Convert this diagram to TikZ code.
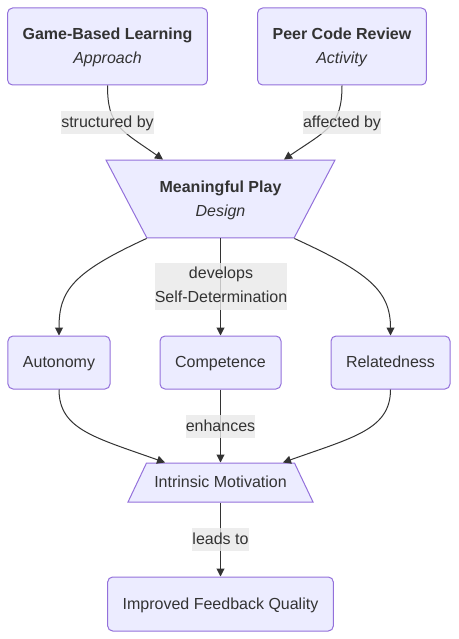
\documentclass[tikz,border=0pt]{standalone}
\usepackage{fontspec}
\setmainfont{Liberation Sans}
\usepackage{xcolor}
\usepackage{tikz}
\usetikzlibrary{arrows.meta,calc,shapes.geometric}

\definecolor{boxfill}{HTML}{ECECFF}
\definecolor{boxline}{HTML}{9370DB}
\definecolor{ink}{HTML}{333333}
\definecolor{lblfill}{HTML}{E8E8E8}
\newcommand{\tstrut}{\rule{0pt}{14pt}}

\begin{document}
\begin{tikzpicture}[x=1pt,y=-1pt,>={Triangle[length=8pt,width=8pt]},
  every node/.style={text=ink,font=\fontsize{16}{24}\selectfont},
  oneline/.style={text height=12.5pt,text depth=2.5pt},
  box/.style={draw=boxline,fill=boxfill,line width=1pt,rounded corners=5pt,
    minimum height=53pt,inner xsep=15pt,align=center},
  trap/.style={trapezium,draw=boxline,fill=boxfill,line width=1pt,
    trapezium stretches body,inner xsep=4pt,align=center},
  lbl/.style={fill=lblfill,fill opacity=0.8,text opacity=1,inner xsep=0pt,
    inner ysep=4pt,align=center},
  link/.style={draw=ink,line width=1pt,->}]
  \useasboundingbox (0,0) rectangle (458,639);
  % nodes
  \node[box,minimum width=199pt,minimum height=77pt] (gbl) at (107.5,46.5)
    {\tstrut\textbf{Game-Based Learning}\\\textit{Approach}};
  \node[box,minimum width=168pt,minimum height=77pt] (pcr) at (342,46.5)
    {\tstrut\textbf{Peer Code Review}\\\textit{Activity}};
  \node[trap,trapezium left angle=117.7,trapezium right angle=117.7,
    inner ysep=18.3pt,minimum width=229pt] (mp) at (220.5,199)
    {\tstrut\textbf{Meaningful Play}\\\textit{Design}};
  \node[box,oneline,minimum width=102pt] (aut) at (59,362.5) {Autonomy};
  \node[box,oneline,minimum width=121pt] (comp) at (220.5,362.5) {Competence};
  \node[box,oneline,minimum width=119pt] (rel) at (390.5,362.5) {Relatedness};
  \node[trap,oneline,trapezium left angle=64.6,trapezium right angle=64.6,
    inner ysep=12pt,minimum width=185pt] (im) at (220.5,482.5)
    {Intrinsic Motivation};
  \node[box,oneline,minimum width=225pt,minimum height=54pt] (ifq) at (220.5,604)
    {Improved Feedback Quality};
  % connectors
  \draw[link] (gbl.south) .. controls +(0,40) and +(-43,-30)
    .. ([xshift=-57.5pt]mp.top side);
  \draw[link] (pcr.south) .. controls +(0,40) and +(44,-30)
    .. ([xshift=63.5pt]mp.top side);
  \draw[link] (mp.bottom left corner) .. controls +(-74,34) and +(0,-45) .. (aut.north);
  \draw[link] (mp.bottom side) -- (comp.north);
  \draw[link] (mp.bottom right corner) .. controls +(74,34) and +(0,-45) .. (rel.north);
  \draw[link] (aut.south) .. controls +(0,40) and +(-70,-25)
    .. ([xshift=-55.5pt]im.top side);
  \draw[link] (comp.south) -- (im.top side);
  \draw[link] (rel.south) .. controls +(0,40) and +(70,-25)
    .. ([xshift=62.5pt]im.top side);
  \draw[link] (im.bottom side) -- (ifq.north);
  % edge labels
  \node[lbl,oneline] (l1) at (107.5,122.5) {structured by};
  \node[lbl,oneline] (l2) at (342,122.5) {affected by};
  \node[lbl] (l3) at (221,286.5) {develops\\Self-Determination\rule[-3.3pt]{0pt}{3.3pt}};
  \node[lbl,oneline] (l4) at (220.5,426.5) {enhances};
  \node[lbl,oneline] (l5) at (220.5,539.5) {leads to};
\end{tikzpicture}
\end{document}
